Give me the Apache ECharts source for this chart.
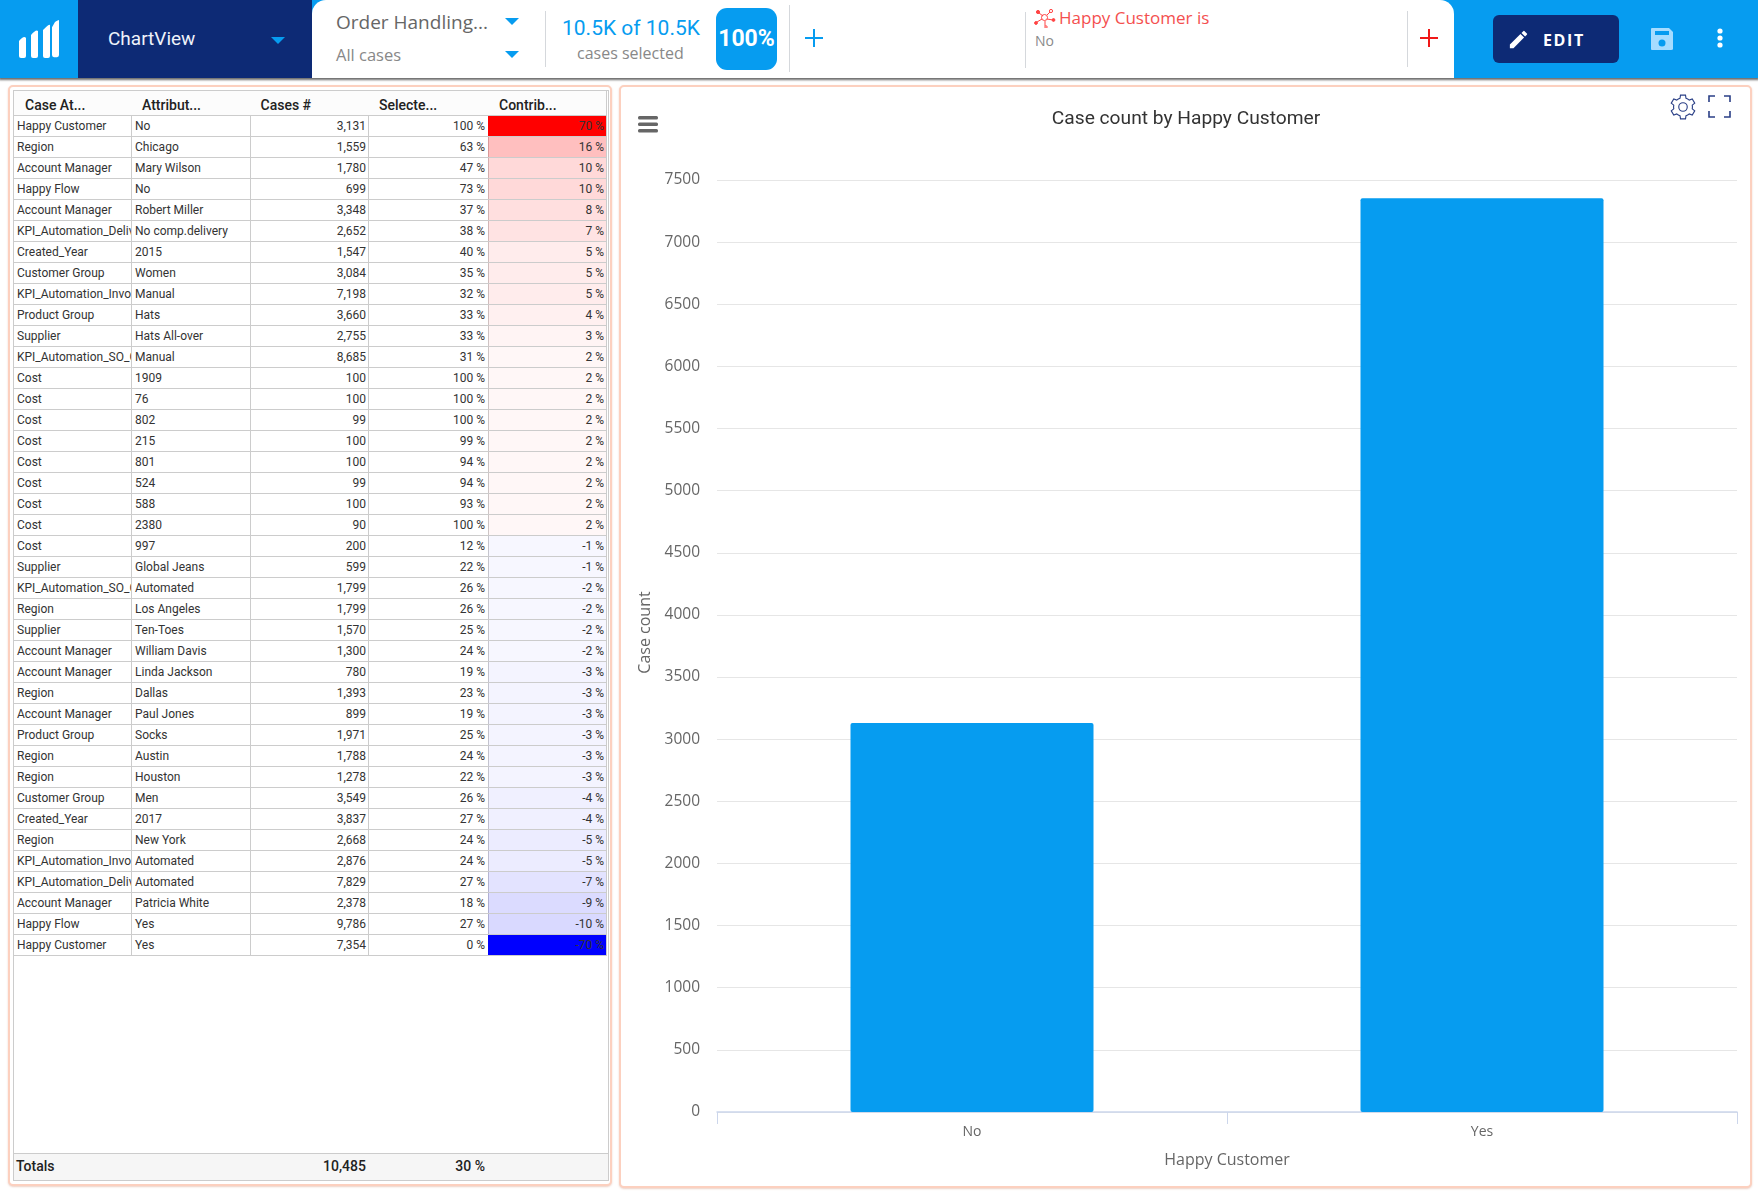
<!DOCTYPE html>
<html><head><meta charset="utf-8">
<script src="https://cdn.jsdelivr.net/npm/echarts@6/dist/echarts.min.js"></script>
<style>
html,body{margin:0;padding:0;width:1758px;height:1194px;overflow:hidden;background:#fff;font-family:Roboto,sans-serif}
.a{position:absolute;white-space:nowrap}
#hdr{position:absolute;left:0;top:0;width:1758px;height:78px;background:#069cf0;box-shadow:0 1px 2px 1px rgba(60,60,60,.75)}
.os{font-family:"Open Sans",sans-serif}
.tri{position:absolute;width:0;height:0;border-left:7px solid transparent;border-right:7px solid transparent;border-top:7px solid #069cf0}
.sep{position:absolute;width:1px;background:#d5d8dc}
.panel{position:absolute;border:2px solid #fcd0bf;border-radius:5px;box-sizing:border-box;background:#fff;box-shadow:0 1px 2px rgba(200,120,90,.35)}
.cell{position:absolute;box-sizing:border-box;overflow:hidden;white-space:nowrap;border-right:1px solid #ccc;border-bottom:1px solid #ccc;color:#333;font-size:12px;line-height:21px;padding:0 2px 0 3px}
.cell.r{text-align:right}
.cell.h{background:#fcfcfc;font-weight:500;font-size:14px;line-height:28px;padding-left:11px;color:#222}
#chart{position:absolute;left:621px;top:85px;width:1130px;height:1102px}
</style></head><body>
<div id="hdr">
 <div class="a" style="left:78px;top:0;width:234px;height:78px;background:#0d2a75"></div>
 <div class="a" style="left:312px;top:0;width:1142px;height:78px;background:#fff;border-radius:14px 14px 0 0"></div>
 <svg class="a" style="left:18px;top:20px" width="42" height="40" viewBox="0 0 42 40" fill="#fff">
  <path d="M1 21q5-6 7-3v18q0 2-2 2H3q-2 0-2-2z"/><path d="M13 15q5-6 7-4v25q0 2-2 2h-3q-2 0-2-2z"/><path d="M25 10q6-6 7-5v31q0 2-2 2h-3q-2 0-2-2z"/><path d="M37 4q3-2 2-1h0q2-2 2 0v33q0 2-2 2h-3q-2 0-2-2V9z" transform="translate(0 -2) scale(1 1.03)"/>
 </svg>
 <div class="a" style="left:108px;top:27px;font-size:19px;line-height:24px;color:#eef2fa">ChartView</div>
 <div class="tri" style="left:271px;top:37px"></div>
 <div class="a os" style="left:336px;top:10px;font-size:19px;line-height:24px;color:#666">Order Handling...</div>
 <div class="tri" style="left:505px;top:18px"></div>
 <div class="a os" style="left:336px;top:44px;font-size:16.5px;line-height:22px;color:#888">All cases</div>
 <div class="tri" style="left:505px;top:51px"></div>
 <div class="sep" style="left:545px;top:11px;height:56px"></div>
 <div class="a" style="left:562px;top:15px;font-size:21px;line-height:26px;color:#069cf0">10.5K of 10.5K</div>
 <div class="a os" style="left:577px;top:43px;font-size:16px;line-height:20px;color:#888">cases selected</div>
 <div class="a" style="left:716px;top:8px;width:61px;height:62px;border-radius:11px;background:#069cf0;color:#fff;font-weight:700;font-size:23px;line-height:62px;text-align:center">100%</div>
 <div class="sep" style="left:789px;top:5px;height:67px"></div>
 <svg class="a" style="left:805px;top:29px" width="18" height="18"><path d="M9 0v18M0 9h18" stroke="#069cf0" stroke-width="2"/></svg>
 <div class="sep" style="left:1025px;top:12px;height:56px"></div>
 <svg class="a" style="left:1034px;top:8px" width="22" height="20" viewBox="0 0 22 20" fill="none" stroke="#f44" stroke-width="1"><circle cx="4" cy="4" r="1.6" fill="#f44"/><circle cx="2" cy="15" r="1.4" fill="#f44"/><circle cx="17" cy="3" r="1.6"/><circle cx="19.5" cy="12" r="1.4" fill="#f44"/><circle cx="12" cy="19" r="1.2"/><circle cx="10.5" cy="9.5" r="3"/><path d="M5 5l4 3M3 14l5-3M13 7l3-3M13 11l6 1M11 13v5"/></svg>
 <div class="a os" style="left:1059px;top:6px;font-size:17px;line-height:24px;color:#f44f4f">Happy Customer is</div>
 <div class="a os" style="left:1035px;top:31px;font-size:14px;line-height:20px;color:#8a8a8a">No</div>
 <div class="sep" style="left:1407px;top:11px;height:56px"></div>
 <svg class="a" style="left:1420px;top:29px" width="18" height="18"><path d="M9 0v18M0 9h18" stroke="#f01818" stroke-width="2"/></svg>
 <div class="a" style="left:1493px;top:15px;width:126px;height:48px;border-radius:6px;background:#0d2a75"></div>
 <svg class="a" style="left:1507px;top:28px" width="23" height="23" viewBox="0 0 24 24" fill="#fff"><path d="M3 17.25V21h3.75L17.8 9.94l-3.75-3.75zM20.7 7.04a1 1 0 000-1.41l-2.34-2.34a1 1 0 00-1.41 0l-1.83 1.83 3.75 3.75z"/></svg>
 <div class="a os" style="left:1543px;top:28px;font-size:16px;line-height:24px;color:#fff;font-weight:700;letter-spacing:1.6px">EDIT</div>
 <svg class="a" style="left:1649px;top:26px" width="26" height="26" viewBox="0 0 26 26"><path d="M3 2h17l4 4v17q0 1-2 1H3q-1 0-1-1V3q0-1 1-1z" fill="#a6dcff"/><rect x="6" y="5" width="14" height="4" fill="#069cf0"/><circle cx="13" cy="17" r="3.5" fill="#069cf0"/></svg>
 <svg class="a" style="left:1715px;top:27px" width="10" height="22"><circle cx="5" cy="4" r="2.6" fill="#fff"/><circle cx="5" cy="11" r="2.6" fill="#fff"/><circle cx="5" cy="18" r="2.6" fill="#fff"/></svg>
</div>
<div class="panel" style="left:8px;top:85px;width:604px;height:1101px"></div>
<div class="panel" style="left:619px;top:85px;width:1133px;height:1103px"></div>
<div id="tbl" class="a" style="left:13px;top:90px;width:596px;height:1091px;border:1px solid #ccc;box-sizing:border-box;background:#fff;white-space:normal"></div>
<div id="chart"></div>
<svg class="a" style="left:638px;top:116px" width="20" height="17"><rect width="20" height="3.6" rx="1.5" y="0" fill="#666"/><rect width="20" height="3.6" rx="1.5" y="6.5" fill="#666"/><rect width="20" height="3.6" rx="1.5" y="13" fill="#666"/></svg>
<svg class="a" style="left:1668px;top:92px" width="30" height="30" viewBox="0 0 24 24" fill="none" stroke="#2a3f86" stroke-width=".9"><path d="M19.4 13.5a7.8 7.8 0 000-3l2-1.6-2-3.4-2.4 1a7.6 7.6 0 00-2.6-1.5L14 2.5h-4l-.4 2.5A7.6 7.6 0 007 6.5l-2.4-1-2 3.4 2 1.6a7.8 7.8 0 000 3l-2 1.6 2 3.4 2.4-1a7.6 7.6 0 002.6 1.5l.4 2.5h4l.4-2.5a7.6 7.6 0 002.6-1.5l2.4 1 2-3.4z"/><circle cx="12" cy="12" r="3.4"/></svg>
<svg class="a" style="left:1708px;top:95px" width="23" height="23" fill="none" stroke="#2a3f86" stroke-width="1.6"><path d="M1 7V1h6M16 1h6v6M22 16v6h-6M7 22H1v-6"/></svg>
<script>
const headers = ['Case At...','Attribut...','Cases #','Selecte...','Contrib...'];
const caseAttributes = ['Happy Customer','Region','Account Manager','Happy Flow','Account Manager','KPI_Automation_Delivery','Created_Year','Customer Group','KPI_Automation_Invoice','Product Group','Supplier','KPI_Automation_SO_Creation','Cost','Cost','Cost','Cost','Cost','Cost','Cost','Cost','Cost','Supplier','KPI_Automation_SO_Creation','Region','Supplier','Account Manager','Account Manager','Region','Account Manager','Product Group','Region','Region','Customer Group','Created_Year','Region','KPI_Automation_Invoice','KPI_Automation_Delivery','Account Manager','Happy Flow','Happy Customer'];
const attributeValues = ['No','Chicago','Mary Wilson','No','Robert Miller','No comp.delivery','2015','Women','Manual','Hats','Hats All-over','Manual','1909','76','802','215','801','524','588','2380','997','Global Jeans','Automated','Los Angeles','Ten-Toes','William Davis','Linda Jackson','Dallas','Paul Jones','Socks','Austin','Houston','Men','2017','New York','Automated','Automated','Patricia White','Yes','Yes'];
const casesCount = [3131,1559,1780,699,3348,2652,1547,3084,7198,3660,2755,8685,100,100,99,100,100,99,100,90,200,599,1799,1799,1570,1300,780,1393,899,1971,1788,1278,3549,3837,2668,2876,7829,2378,9786,7354];
const selectedPct = [100,63,47,73,37,38,40,35,32,33,33,31,100,100,100,99,94,94,93,100,12,22,26,26,25,24,19,23,19,25,24,22,26,27,24,24,27,18,27,0];
const contributionPct = [70,16,10,10,8,7,5,5,5,4,3,2,2,2,2,2,2,2,2,2,-1,-1,-2,-2,-2,-2,-3,-3,-3,-3,-3,-3,-4,-4,-5,-5,-7,-9,-10,-70];
const totalsRow = ['Totals','10,485','30 %'];
const barCategories = ['No','Yes'];
const barValues = [3131,7354];
const yTickMax = 7500, yTickStep = 500;
const chartTitle = 'Case count by Happy Customer';
const xAxisName = 'Happy Customer', yAxisName = 'Case count';

const heatAlpha = {70:1,16:.25,10:.15,9:.14,8:.125,7:.11,5:.075,4:.06,3:.045,2:.032,1:.03};
function heat(v){const a=heatAlpha[Math.abs(v)];return v>0?`rgba(255,0,0,${a})`:`rgba(0,0,255,${a})`;}
const tbl=document.getElementById('tbl');
const colX=[0,117,235.5,354,474,592], headH=24.5, rowH=21;
function cell(txt,c,y,h,cls,bg,css){const d=document.createElement('div');d.className='cell '+cls;d.textContent=txt;
 d.style.cssText=`left:${colX[c]}px;top:${y}px;width:${colX[c+1]-colX[c]+1}px;height:${h}px;`+(bg?`background:${bg};`:'')+(css||'');tbl.appendChild(d);}
headers.forEach((t,c)=>cell(t,c,0,headH,'h'));
caseAttributes.forEach((_,i)=>{const y=headH+i*rowH;
 cell(caseAttributes[i],0,y,rowH,'');cell(attributeValues[i],1,y,rowH,'',null,'padding-left:4px;');
 cell(casesCount[i].toLocaleString('en-US'),2,y,rowH,'r');cell(selectedPct[i]+' %',3,y,rowH,'r',null,'padding-right:3px;');
 cell(contributionPct[i]+' %',4,y,rowH,'r',heat(contributionPct[i]));});
const tot=document.createElement('div');tot.className='a';tot.style.cssText='left:0;top:1062px;width:594px;height:27px;background:#f6f6f6;border-top:1px solid #ccc;box-sizing:border-box;font-size:14px;font-weight:500;line-height:24px;color:#222';
tot.innerHTML=`<span class="a" style="left:2px">${totalsRow[0]}</span><span class="a" style="right:242px">${totalsRow[1]}</span><span class="a" style="right:123px">${totalsRow[2]}</span>`;
tbl.appendChild(tot);

const chart=echarts.init(document.getElementById('chart'),null,{renderer:'canvas'});
chart.setOption({
 animation:false,
 title:{text:chartTitle,left:'center',top:20,textStyle:{fontFamily:'Roboto',fontSize:19.2,fontWeight:'normal',color:'#333'}},
 grid:{left:96,right:14,top:95,bottom:75},
 xAxis:{type:'category',data:barCategories,name:xAxisName,nameLocation:'middle',nameGap:40,
  nameTextStyle:{fontFamily:'Open Sans',fontSize:16,color:'#666'},
  axisLine:{lineStyle:{color:'#ccd6eb',width:1.5}},axisTick:{show:true,alignWithLabel:false,length:12,lineStyle:{color:'#ccd6eb'}},
  axisLabel:{fontFamily:'Open Sans',fontSize:14,color:'#666',margin:13}},
 yAxis:{type:'value',min:0,max:yTickMax,interval:yTickStep,name:yAxisName,nameLocation:'middle',nameGap:56,
  nameTextStyle:{fontFamily:'Open Sans',fontSize:16,color:'#666',padding:[0,0,0,27]},
  axisLine:{show:false},axisTick:{show:false},splitLine:{lineStyle:{color:'#e6e6e6',width:1}},
  axisLabel:{fontFamily:'Open Sans',fontSize:15.5,color:'#666',margin:17,padding:[0,0,5,0],formatter:v=>String(v)}},
 series:[{type:'bar',data:barValues,barWidth:243,itemStyle:{color:'#069cf0',borderRadius:2}}]
});
</script>
</body></html>
